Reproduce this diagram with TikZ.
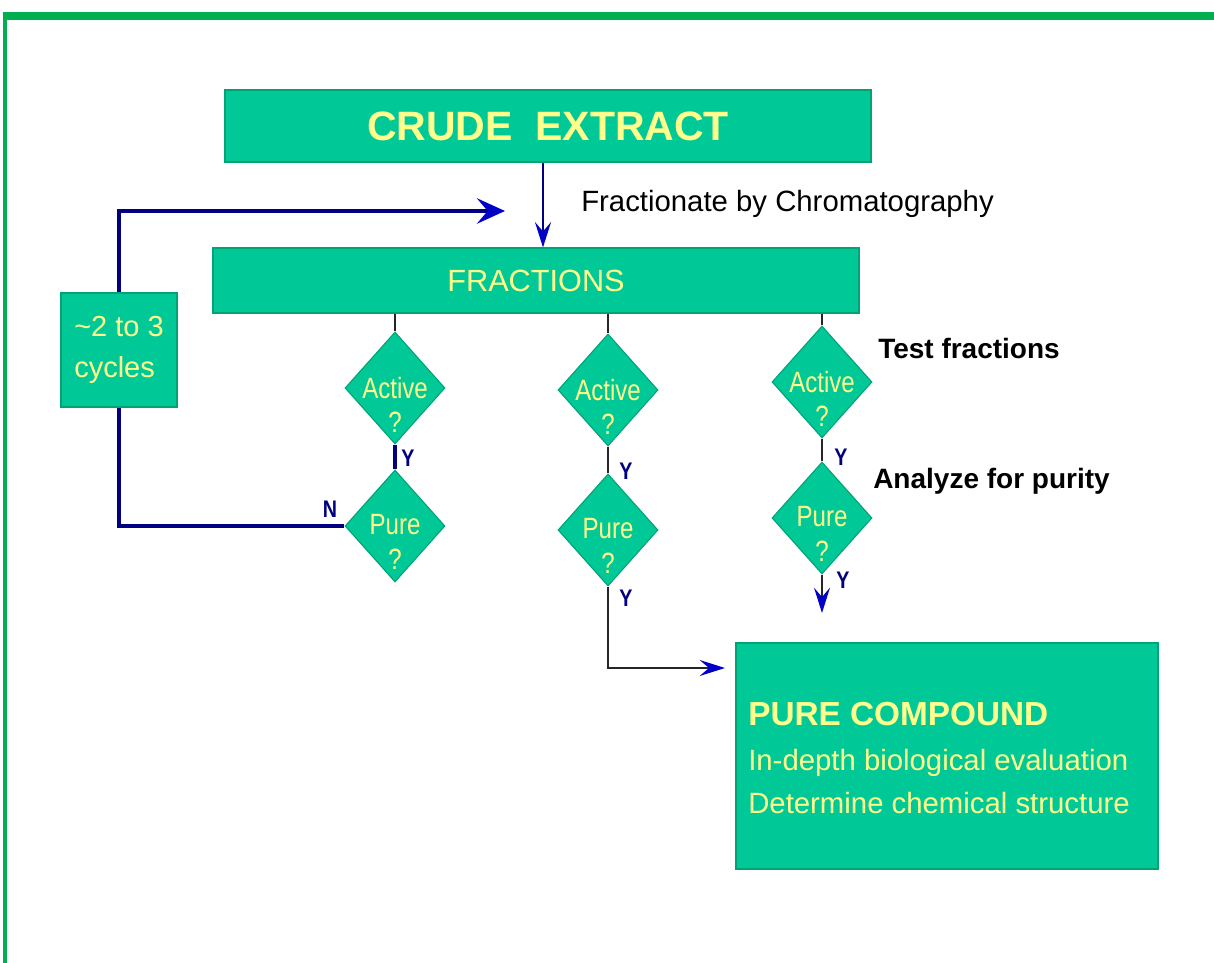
\documentclass[tikz,border=0pt]{standalone}
\usepackage{fontspec}
\setmainfont{Liberation Sans}
\newfontfamily\condfont[FakeStretch=0.82]{Liberation Sans}
\usetikzlibrary{shapes.geometric,arrows.meta,calc}
\definecolor{boxfill}{HTML}{00C896}
\definecolor{boxedge}{HTML}{00A374}
\definecolor{ylw}{HTML}{FFFF8C}
\definecolor{navy}{HTML}{000080}
\definecolor{tipblue}{HTML}{0000C8}
\definecolor{framegreen}{HTML}{00B050}
\begin{document}
\begin{tikzpicture}[x=0.75pt,y=-0.75pt,
  box/.style={draw=boxedge, line width=0.8pt, fill=boxfill, inner sep=0pt, text=ylw},
  dia/.style={diamond, draw=boxedge, line width=0.8pt, fill=boxfill, inner sep=0pt,
              minimum width=75pt, minimum height=84pt},
  dlabel/.style={text=ylw, font=\condfont\fontsize{22}{26}\selectfont, align=center, inner sep=0pt},
  yn/.style={text=navy, font=\condfont\fontsize{18}{20}\selectfont\bfseries, inner sep=0pt},
  note/.style={text=black, font=\fontsize{21}{24}\selectfont\bfseries, anchor=base west, inner sep=0pt},
  pctext/.style={text=ylw, anchor=base west, inner sep=0pt},
  thinline/.style={draw=black!85, line width=1.1pt},
  navyline/.style={draw=navy, line width=3pt},
  tipsmall/.style={-{Stealth[length=19pt,width=12pt,inset=7pt,color=tipblue]}},
  tipbig/.style={-{Stealth[length=21pt,width=19pt,inset=8pt,color=tipblue]}},
]
\useasboundingbox (0,0) rectangle (1214,963);
\fill[white] (0,0) rectangle (1214,963);

% frame
\draw[framegreen, line width=6pt] (3,16) -- (1214,16);
\draw[framegreen, line width=3pt] (5,13) -- (5,963);

% boxes
\node[box, minimum width=484.5pt, minimum height=54pt,
      font=\fontsize{30.75}{36}\selectfont\bfseries] (crude) at (548,126)
      {CRUDE\hspace{0.55em}EXTRACT};
\node[box, minimum width=484.5pt, minimum height=48.75pt,
      font=\fontsize{23}{27}\selectfont] (fractions) at (536,280.5) {FRACTIONS};
\node[box, minimum width=87pt, minimum height=85.5pt, align=left,
      font=\fontsize{21.75}{30.75}\selectfont] (cycles) at (119,350)
      {\textasciitilde 2 to 3\\cycles};
\node[box, minimum width=316.5pt, minimum height=169.5pt] (pc) at (947,756) {};
\node[pctext, font=\fontsize{25}{30}\selectfont\bfseries] (pc1) at (748,725) {PURE COMPOUND};
\node[pctext, font=\fontsize{22}{26}\selectfont] (pc2) at (748,770) {In-depth biological evaluation};
\node[pctext, font=\fontsize{22}{26}\selectfont] (pc3) at (748,813) {Determine chemical structure};

% diamonds
\node[dia] (a1) at (395,388) {};
\node[dia] (p1) at (395,526) {};
\node[dia] (a2) at (608,390) {};
\node[dia] (p2) at (608,530) {};
\node[dia] (a3) at (822,382) {};
\node[dia] (p3) at (822,518) {};
\node[dlabel] (a1t) at (395,405) {Active\\?};
\node[dlabel] (p1t) at (395,542) {Pure\\?};
\node[dlabel] (a2t) at (608,407) {Active\\?};
\node[dlabel] (p2t) at (608,546) {Pure\\?};
\node[dlabel] (a3t) at (822,399) {Active\\?};
\node[dlabel] (p3t) at (822,534) {Pure\\?};

% texts
\node[anchor=base west, inner sep=0pt, font=\fontsize{22}{26}\selectfont] (fbc) at (581,212)
  {Fractionate by Chromatography};
\node[note] (tf) at (878,358) {Test fractions};
\node[note] (ap) at (873,488) {Analyze for purity};

% Y / N labels
\node[yn] (y1) at (408,458) {Y};
\node[yn] (y2) at (626,471) {Y};
\node[yn] (y3) at (841,457) {Y};
\node[yn] (y4) at (626,598) {Y};
\node[yn] (y5) at (843,580) {Y};
\node[yn] (n1) at (330,509) {N};

% connectors
\coordinate (xa) at (543,0);
\draw[navy, line width=2pt, tipsmall] (crude.south -| xa) -- (fractions.north -| xa);
\coordinate (lt) at (505,211);
\draw[navyline, tipbig] (cycles.north) |- (lt);
\draw[navyline] (cycles.south) |- (p1.west);

\draw[thinline] (a1.north |- fractions.south) -- (a1.north);
\draw[thinline] (a2.north |- fractions.south) -- (a2.north);
\draw[thinline] (a3.north |- fractions.south) -- (a3.north);

\draw[navyline] (a1.south) -- (p1.north);
\draw[thinline] (a2.south) -- (p2.north);
\draw[thinline] (a3.south) -- (p3.north);

\coordinate (e3) at (822,613);
\draw[thinline, tipsmall] (p3.south) -- (e3);
\coordinate (e2) at (725,668);
\draw[thinline, tipsmall] (p2.south) |- (e2);
\end{tikzpicture}
\end{document}
